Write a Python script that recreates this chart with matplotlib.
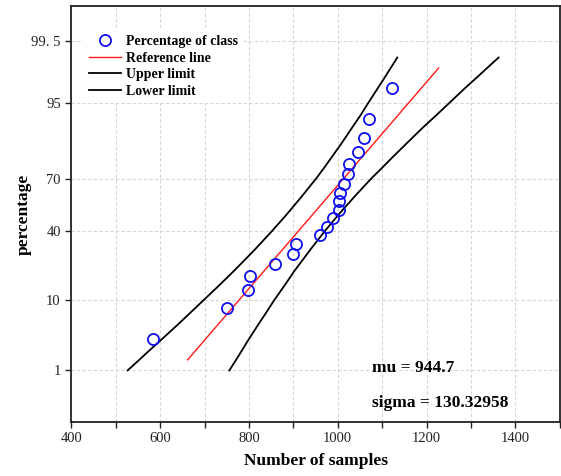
import numpy as np
import matplotlib
matplotlib.use('Agg')
import matplotlib.pyplot as plt
from matplotlib.ticker import MultipleLocator
from statistics import NormalDist

# sorted samples and their plotting positions (percent)
sample_x = [585, 750, 797, 802, 858, 900, 905, 959, 976, 989,
            1002, 1002, 1004, 1013, 1024, 1026, 1046, 1058, 1071, 1123]
sample_pct = [3.1, 8.0, 13.0, 17.9, 22.8, 27.8, 32.7, 37.7, 42.6, 47.5,
              52.5, 57.4, 62.3, 67.3, 72.2, 77.2, 82.1, 87.0, 92.0, 96.9]

# fitted reference line end points
ref_x = [662, 1227]
ref_pct = [1.5, 98.5]

# confidence band read at percentage levels
band_pct = [1, 1.5, 2, 3, 5, 7, 10, 15, 20, 25, 30, 40, 50,
            60, 70, 75, 80, 85, 90, 93, 95, 97, 98, 98.5, 99]
upper_x = [527, 553, 572, 601, 640, 667, 698, 737, 767, 792, 814, 852, 886,
           918, 951, 968, 986, 1007, 1032, 1052, 1068, 1091, 1108, 1119, 1134]
lower_x = [756, 771, 782, 798, 821, 838, 857, 883, 903, 922, 939, 971, 1003,
           1037, 1075, 1098, 1123, 1153, 1191, 1223, 1250, 1288, 1317, 1336, 1362]

y_ticks = [1, 10, 40, 70, 95, 99.5]
y_tick_labels = ['1', '10', '40', '70', '95', '99. 5']

mu_text = 'mu = 944.7'
sigma_text = 'sigma = 130.32958'

_nd = NormalDist()
_ppf = np.vectorize(_nd.inv_cdf, otypes=[float])
_cdf = np.vectorize(_nd.cdf, otypes=[float])


def prob_fwd(p):
    p = np.clip(np.asarray(p, dtype=float) / 100.0, 1e-9, 1 - 1e-9)
    return _ppf(p)


def prob_inv(z):
    return _cdf(np.asarray(z, dtype=float)) * 100.0


def main():
    serif = 'Liberation Serif'
    fig = plt.figure(figsize=(5.61, 4.76), dpi=100)
    ax = fig.add_axes([0.127, 0.114, 0.871, 0.873])
    ax.set_yscale('function', functions=(prob_fwd, prob_inv))

    ax.plot(sample_x, sample_pct, 'o', mfc='none', mec='#1010ee', mew=1.3,
            ms=8, label='Percentage of class', zorder=4)
    ax.plot(ref_x, ref_pct, color='#ff1a1a', lw=1.0, label='Reference line', zorder=3)
    ax.plot(upper_x, band_pct, color='black', lw=1.3, label='Upper limit', zorder=3)
    ax.plot(lower_x, band_pct, color='black', lw=1.3, label='Lower limit', zorder=3)

    ax.set_xlim(400, 1500)
    ax.set_ylim(0.1, 99.9)
    ax.xaxis.set_major_locator(MultipleLocator(200))
    ax.xaxis.set_minor_locator(MultipleLocator(100))
    ax.set_yticks(y_ticks)
    ax.set_yticklabels(y_tick_labels)
    ax.yaxis.set_minor_locator(plt.NullLocator())

    grid_kw = dict(color='#d6d6d6', lw=0.8, ls=(0, (3, 2)))
    ax.xaxis.grid(True, which='both', **grid_kw)
    ax.yaxis.grid(True, which='major', **grid_kw)
    ax.set_axisbelow(True)

    ax.tick_params(which='both', direction='out', length=4, width=1.0,
                   labelsize=10.5, colors='#222222')
    for lab in ax.get_xticklabels() + ax.get_yticklabels():
        lab.set_fontfamily(serif)
    for sp in ax.spines.values():
        sp.set_linewidth(1.3)
        sp.set_color('#222222')

    ax.set_xlabel('Number of samples', fontfamily=serif, fontweight='bold',
                  fontsize=12.5, labelpad=6)
    ax.set_ylabel('percentage', fontfamily=serif, fontweight='bold',
                  fontsize=12.5, labelpad=0)

    leg = ax.legend(loc='upper left', bbox_to_anchor=(0.01, 0.96),
                    prop={'family': serif, 'weight': 'bold', 'size': 10},
                    frameon=True, fancybox=False, handlelength=2.3,
                    handletextpad=0.4, labelspacing=0.25, borderpad=0.4)
    leg.get_frame().set_edgecolor('none')
    leg.get_frame().set_facecolor('white')
    leg.get_frame().set_alpha(1.0)

    ax.text(0.615, 0.129, mu_text, transform=ax.transAxes, va='center',
            fontfamily=serif, fontweight='bold', fontsize=12.5)
    ax.text(0.615, 0.045, sigma_text, transform=ax.transAxes, va='center',
            fontfamily=serif, fontweight='bold', fontsize=12.5)

    fig.savefig('out.png', dpi=100)


if __name__ == '__main__':
    main()
